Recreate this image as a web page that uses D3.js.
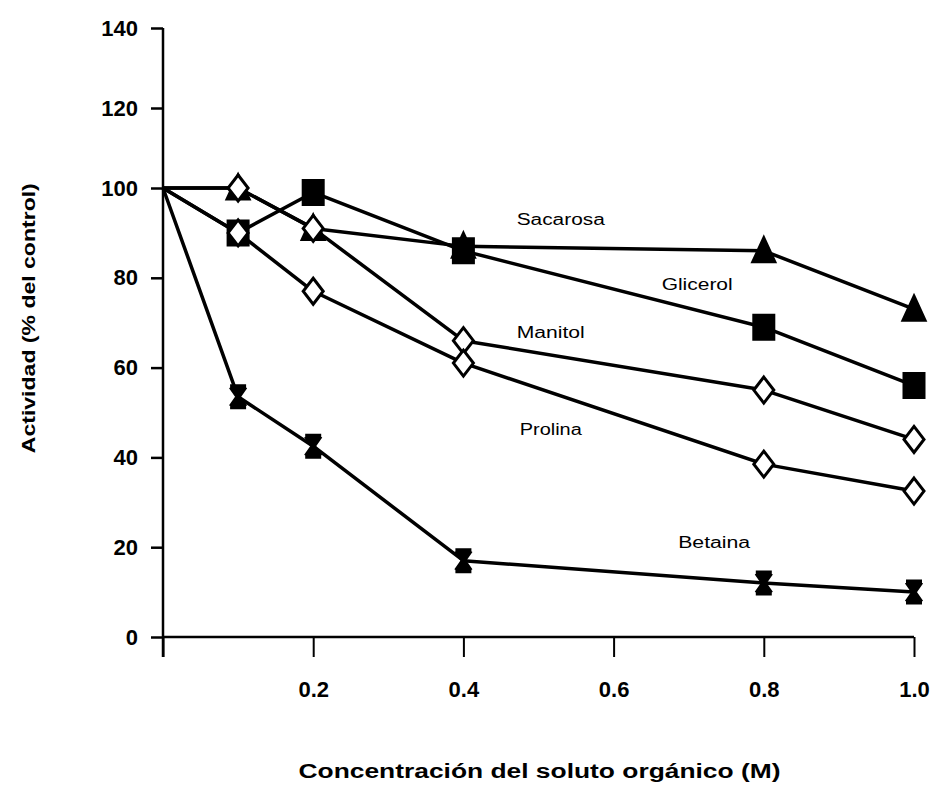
<!DOCTYPE html>
<html>
<head>
<meta charset="utf-8">
<script src="https://cdn.jsdelivr.net/npm/d3@7/dist/d3.min.js"></script>
<style>
  html, body { margin: 0; padding: 0; background: #fff; }
  svg { display: block; }
</style>
</head>
<body>
<svg id="chart" width="930" height="786"></svg>
<script>
// ---- data ----
const concentrations = [0, 0.1, 0.2, 0.4, 0.8, 1.0];
const sacarosa = [100, 100, 91, 87, 86, 73];
const glicerol = [100, 90, 99, 86, 69, 56];
const manitol  = [100, 100, 91, 66, 55, 44];
const prolina  = [100, 90, 77, 61, 38.5, 32.5];
const betaina  = [100, 53.5, 42.5, 17, 12, 10];
const seriesNames = ["Sacarosa", "Glicerol", "Manitol", "Prolina", "Betaina"];
const seriesMarkers = ["triangle", "square", "diamond", "diamond", "star"];
// label anchor positions in data units [x concentration, y activity]
const labelX = [0.471, 0.664, 0.471, 0.475, 0.686];
const labelY = [91.8, 77.3, 66.6, 45, 19.8];
const labelLen = [88, 71, 68, 62, 72];
const xTicks = [0, 0.2, 0.4, 0.6, 0.8, 1.0];
const yTicks = [0, 20, 40, 60, 80, 100, 120, 140];
const xTitle = "Concentración del soluto orgánico (M)";
const yTitle = "Actividad (% del control)";

const seriesValues = [sacarosa, glicerol, manitol, prolina, betaina];

// ---- scales ----
const svg = d3.select("#chart");
const x = d3.scaleLinear().domain([0, 1]).range([163, 914]);
const y = d3.scaleLinear().domain([0, 100, 140]).range([637, 188, 28]);

const font = "'Liberation Sans', Arial, Helvetica, sans-serif";

// ---- y axis ----
const yAxis = svg.append("g")
  .attr("transform", `translate(${x(0)},0)`)
  .call(d3.axisLeft(y).tickValues(yTicks).tickSize(12).tickPadding(13)
    .tickFormat(d3.format("d")));
yAxis.select(".domain").remove();
yAxis.selectAll(".tick line").attr("stroke", "#000").attr("stroke-width", 2.5);
yAxis.selectAll(".tick text")
  .attr("fill", "#000")
  .style("font-family", font)
  .style("font-weight", "bold")
  .style("font-size", "22px");
svg.append("line")
  .attr("x1", x(0)).attr("x2", x(0))
  .attr("y1", y(140)).attr("y2", y(0) + 20)
  .attr("stroke", "#000").attr("stroke-width", 2.5);

// ---- x axis ----
const xAxis = svg.append("g")
  .attr("transform", `translate(0,${y(0)})`)
  .call(d3.axisBottom(x).tickValues(xTicks).tickSize(20).tickPadding(24)
    .tickFormat(d => d === 0 ? "" : d3.format(".1f")(d)));
xAxis.select(".domain").remove();
xAxis.selectAll(".tick line").attr("stroke", "#000").attr("stroke-width", 2);
xAxis.selectAll(".tick text")
  .attr("fill", "#000")
  .style("font-family", font)
  .style("font-weight", "bold")
  .style("font-size", "22px");
svg.append("line")
  .attr("x1", x(0)).attr("x2", x(1))
  .attr("y1", y(0)).attr("y2", y(0))
  .attr("stroke", "#000").attr("stroke-width", 2.5);

// ---- titles ----
svg.append("text")
  .attr("x", (x(0) + x(1)) / 2 + 1)
  .attr("y", 778)
  .attr("text-anchor", "middle")
  .attr("textLength", 482)
  .attr("lengthAdjust", "spacingAndGlyphs")
  .style("font-family", font)
  .style("font-weight", "bold")
  .style("font-size", "20px")
  .text(xTitle);

svg.append("text")
  .attr("transform", `translate(35,${y(71)}) rotate(-90)`)
  .attr("text-anchor", "middle")
  .attr("textLength", 270)
  .attr("lengthAdjust", "spacingAndGlyphs")
  .style("font-family", font)
  .style("font-weight", "bold")
  .style("font-size", "19px")
  .text(yTitle);

// ---- series lines ----
const line = d3.line().x(d => x(d[0])).y(d => y(d[1]));
const markerPath = {
  triangle: "M0,-13 L11,11 L-11,11 Z",
  square: "M-10,-12 H10 V12 H-10 Z",
  diamond: "M0,-13 L10,0 L0,13 L-10,0 Z",
  star: "M-8,-10 H8 M-8,10 H8 M-7,-10 L7,10 M7,-10 L-7,10 M0,-10 V10"
};

seriesValues.forEach((vals, i) => {
  const pts = concentrations.map((c, j) => [c, vals[j]]);
  const g = svg.append("g").attr("class", "series");
  g.append("path")
    .attr("d", line(pts))
    .attr("fill", "none")
    .attr("stroke", "#000")
    .attr("stroke-width", 3.5)
    .attr("stroke-linejoin", "round");
  const m = seriesMarkers[i];
  g.selectAll("path.marker")
    .data(pts.slice(1))
    .join("path")
    .attr("class", "marker")
    .attr("transform", d => `translate(${x(d[0])},${y(d[1])})`)
    .attr("d", markerPath[m])
    .attr("fill", m === "diamond" ? "#fff" : (m === "star" ? "none" : "#000"))
    .attr("stroke", "#000")
    .attr("stroke-width", m === "star" ? 5 : 3)
    .attr("stroke-linejoin", "miter");
});

// ---- series labels ----
seriesNames.forEach((name, i) => {
  svg.append("text")
    .attr("x", x(labelX[i]))
    .attr("y", y(labelY[i]))
    .attr("textLength", labelLen[i])
    .attr("lengthAdjust", "spacingAndGlyphs")
    .style("font-family", font)
    .style("font-size", "16px")
    .text(name);
});
</script>
</body>
</html>
